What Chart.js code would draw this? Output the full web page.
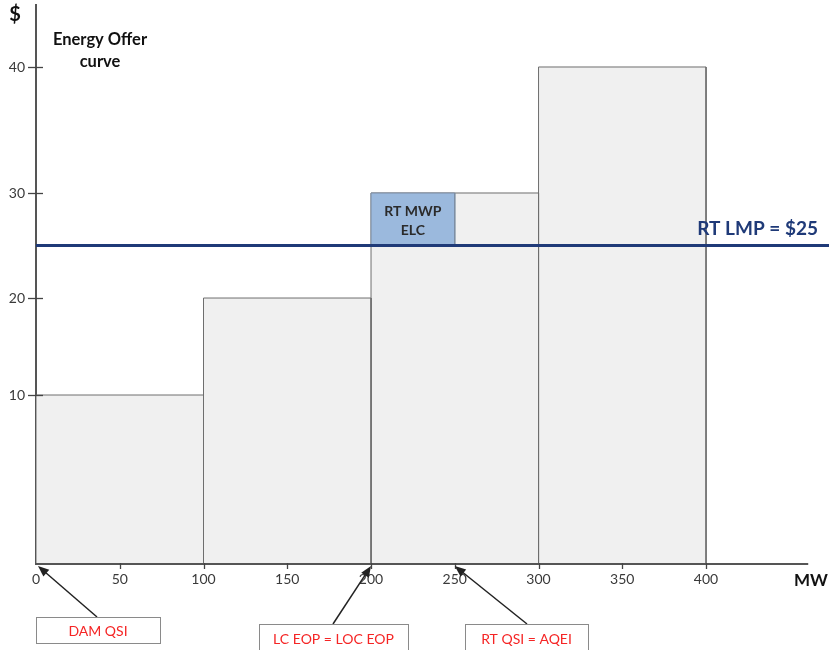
<!DOCTYPE html>
<html>
<head>
<meta charset="utf-8">
<script src="https://cdn.jsdelivr.net/npm/chart.js@4/dist/chart.umd.min.js"></script>
<style>
  html, body { margin: 0; padding: 0; background: #ffffff; }
  #wrap { width: 830px; height: 650px; }
</style>
</head>
<body>
<div id="wrap"><canvas id="c" width="830" height="650"></canvas></div>
<script>
// Offer curve steps (MW range and $/MWh price of each block)
const STEP_FROM  = [0, 100, 200, 300];
const STEP_TO    = [100, 200, 300, 400];
const STEP_PRICE = [10, 20, 30, 40];

// Real-time LMP and the ELC block that sits above it
const RT_LMP   = 25;
const ELC_FROM = 200;
const ELC_TO   = 250;
const ELC_TOP  = 30;

// Axis ticks
const X_TICKS = [0, 50, 100, 150, 200, 250, 300, 350, 400];
const Y_TICKS = [10, 20, 30, 40];
const X_AXIS_END = 461;   // MW where the drawn x axis line stops
const X_MAX = 473.4;
const Y_MAX = 45;

// Callouts pointing at MW positions on the axis
const CALLOUT_TEXT = ['DAM QSI', 'LC EOP = LOC EOP', 'RT QSI = AQEI'];
const CALLOUT_MW   = [0, 200, 250];

// The $ axis is drawn with uneven spacing between its labelled levels
const Y_STOP_VALUES    = [0, 10, 20, 30, 40, 45];
const Y_STOP_FRACTIONS = [0, 0.3023, 0.4758, 0.6637, 0.8891, 1];

class PiecewiseScale extends Chart.LinearScale {
  static id = 'piecewise';
  static defaults = Chart.LinearScale.defaults;
  _toFraction(v) {
    const vs = Y_STOP_VALUES, fs = Y_STOP_FRACTIONS;
    if (v <= vs[0]) return fs[0];
    for (let i = 1; i < vs.length; i++) {
      if (v <= vs[i]) {
        const t = (v - vs[i - 1]) / (vs[i] - vs[i - 1]);
        return fs[i - 1] + t * (fs[i] - fs[i - 1]);
      }
    }
    return fs[fs.length - 1];
  }
  _fromFraction(f) {
    const vs = Y_STOP_VALUES, fs = Y_STOP_FRACTIONS;
    for (let i = 1; i < fs.length; i++) {
      if (f <= fs[i]) {
        const t = (f - fs[i - 1]) / (fs[i] - fs[i - 1]);
        return vs[i - 1] + t * (vs[i] - vs[i - 1]);
      }
    }
    return vs[vs.length - 1];
  }
  getPixelForValue(value) {
    return this.getPixelForDecimal(this._toFraction(value));
  }
  getValueForPixel(pixel) {
    return this._fromFraction(this.getDecimalForPixel(pixel));
  }
}
Chart.register(PiecewiseScale);

const FONT = 'Lato, "Open Sans", "Liberation Sans", sans-serif';

// One filled rectangle per offer block (drawn underneath everything else)
const stepSets = STEP_FROM.map((a, i) => ({
  data: [
    { x: a, y: 0 },
    { x: a, y: STEP_PRICE[i] },
    { x: STEP_TO[i], y: STEP_PRICE[i] },
    { x: STEP_TO[i], y: 0 }
  ],
  backgroundColor: '#f0f0f0',
  borderColor: '#6e6e6e',
  borderWidth: 1,
  fill: 'origin',
  pointRadius: 0,
  tension: 0,
  order: 3
}));

const elcSet = {
  data: [
    { x: ELC_FROM, y: RT_LMP },
    { x: ELC_FROM, y: ELC_TOP },
    { x: ELC_TO, y: ELC_TOP },
    { x: ELC_TO, y: RT_LMP }
  ],
  backgroundColor: '#9bb9dd',
  borderColor: '#7d8da3',
  borderWidth: 1,
  fill: { value: RT_LMP },
  pointRadius: 0,
  tension: 0,
  order: 2
};

const lmpSet = {
  data: [{ x: 0, y: RT_LMP }, { x: X_MAX, y: RT_LMP }],
  borderColor: '#1f3a78',
  borderWidth: 3,
  fill: false,
  pointRadius: 0,
  order: 1
};

function arrow(ctx, x0, y0, x1, y1) {
  const ang = Math.atan2(y1 - y0, x1 - x0);
  const len = 11, half = 4.5;
  ctx.beginPath();
  ctx.moveTo(x0, y0);
  ctx.lineTo(x1 - Math.cos(ang) * len * 0.8, y1 - Math.sin(ang) * len * 0.8);
  ctx.stroke();
  ctx.beginPath();
  ctx.moveTo(x1, y1);
  ctx.lineTo(x1 - len * Math.cos(ang) + half * Math.sin(ang), y1 - len * Math.sin(ang) - half * Math.cos(ang));
  ctx.lineTo(x1 - len * Math.cos(ang) - half * Math.sin(ang), y1 - len * Math.sin(ang) + half * Math.cos(ang));
  ctx.closePath();
  ctx.fill();
}

// Callout box placement: [left, top, width, height] and arrow start point
const CALLOUT_BOX = [
  { left: 36, top: 617, w: 124, h: 26, sx: 97, sy: 617 },
  { left: 259, top: 624, w: 149, h: 28, sx: 333, sy: 624 },
  { left: 465, top: 624, w: 123, h: 28, sx: 527, sy: 624 }
];

const overlay = {
  id: 'overlay',
  afterDatasetsDraw(chart) {
    const { ctx, scales: { x, y }, chartArea } = chart;
    const y0 = y.getPixelForValue(0);
    ctx.save();

    // x axis line
    ctx.strokeStyle = '#555555';
    ctx.lineWidth = 2;
    ctx.beginPath();
    ctx.moveTo(x.getPixelForValue(0), y0);
    ctx.lineTo(x.getPixelForValue(X_AXIS_END), y0);
    ctx.stroke();

    // tick marks on the axes
    ctx.lineWidth = 1.3;
    ctx.strokeStyle = '#444444';
    Y_TICKS.forEach(v => {
      const py = Math.round(y.getPixelForValue(v)) + 0.5;
      ctx.beginPath();
      ctx.moveTo(chartArea.left - 8, py);
      ctx.lineTo(chartArea.left + 7, py);
      ctx.stroke();
    });
    X_TICKS.slice(1).forEach(v => {
      const px = Math.round(x.getPixelForValue(v)) + 0.5;
      ctx.beginPath();
      ctx.moveTo(px, y0 - 1);
      ctx.lineTo(px, y0 + 5);
      ctx.stroke();
    });

    // axis titles
    ctx.fillStyle = '#111111';
    ctx.textAlign = 'center';
    ctx.textBaseline = 'middle';
    ctx.font = 'bold 20px ' + FONT;
    ctx.fillText('$', 15, 15);
    ctx.font = 'bold 17px ' + FONT;
    ctx.fillText('MW', 811, 581);

    ctx.font = 'bold 16.5px ' + FONT;
    ctx.fillText('Energy Offer', 100, 40);
    ctx.fillText('curve', 100, 62);

    // ELC label
    const ex = (x.getPixelForValue(ELC_FROM) + x.getPixelForValue(ELC_TO)) / 2;
    ctx.fillStyle = '#2b2b2b';
    ctx.font = 'bold 14px ' + FONT;
    ctx.fillText('RT MWP', ex, y.getPixelForValue(ELC_TOP) + 18);
    ctx.fillText('ELC', ex, y.getPixelForValue(ELC_TOP) + 37);

    // LMP label
    ctx.fillStyle = '#1f3a78';
    ctx.font = 'bold 19px ' + FONT;
    ctx.textAlign = 'right';
    ctx.fillText('RT LMP = $' + RT_LMP, chartArea.right - 11, y.getPixelForValue(RT_LMP) - 17);

    // callouts
    ctx.textAlign = 'center';
    ctx.font = '14px ' + FONT;
    CALLOUT_TEXT.forEach((t, i) => {
      const b = CALLOUT_BOX[i];
      ctx.strokeStyle = '#222222';
      ctx.fillStyle = '#222222';
      ctx.lineWidth = 1.5;
      arrow(ctx, b.sx, b.sy, x.getPixelForValue(CALLOUT_MW[i]) + (i === 0 ? 2 : 0), y0 + 2);
      ctx.fillStyle = '#ffffff';
      ctx.fillRect(b.left, b.top, b.w, b.h);
      ctx.strokeStyle = '#8a8a8a';
      ctx.lineWidth = 1;
      ctx.strokeRect(b.left + 0.5, b.top + 0.5, b.w, b.h);
      ctx.fillStyle = '#f52525';
      ctx.fillText(t, b.left + b.w / 2, b.top + b.h / 2 + 1);
    });
    ctx.restore();
  }
};

new Chart(document.getElementById('c'), {
  type: 'line',
  data: { datasets: [...stepSets, elcSet, lmpSet] },
  options: {
    responsive: false,
    animation: false,
    devicePixelRatio: 1,
    layout: { padding: { left: 0, top: 5, right: 1, bottom: 56 } },
    plugins: { legend: { display: false }, tooltip: { enabled: false } },
    scales: {
      x: {
        type: 'linear',
        min: 0,
        max: X_MAX,
        afterFit: s => { s.height = 30; s.paddingLeft = 0; s.paddingRight = 0; },
        afterBuildTicks: s => { s.ticks = X_TICKS.map(v => ({ value: v })); },
        grid: { display: false, drawTicks: false },
        border: { display: false },
        ticks: {
          padding: 7,
          color: '#3a3a3a',
          font: { family: FONT, size: 14 },
          maxRotation: 0,
          autoSkip: false
        }
      },
      y: {
        type: 'piecewise',
        min: 0,
        max: Y_MAX,
        afterFit: s => { s.width = 36; s.paddingTop = 0; s.paddingBottom = 0; },
        afterBuildTicks: s => { s.ticks = Y_TICKS.map(v => ({ value: v })); },
        grid: { display: false, drawTicks: false },
        border: { display: true, color: '#555555', width: 2 },
        ticks: {
          padding: 11,
          color: '#3a3a3a',
          font: { family: FONT, size: 14 },
          autoSkip: false
        }
      }
    }
  },
  plugins: [overlay]
});
</script>
</body>
</html>
